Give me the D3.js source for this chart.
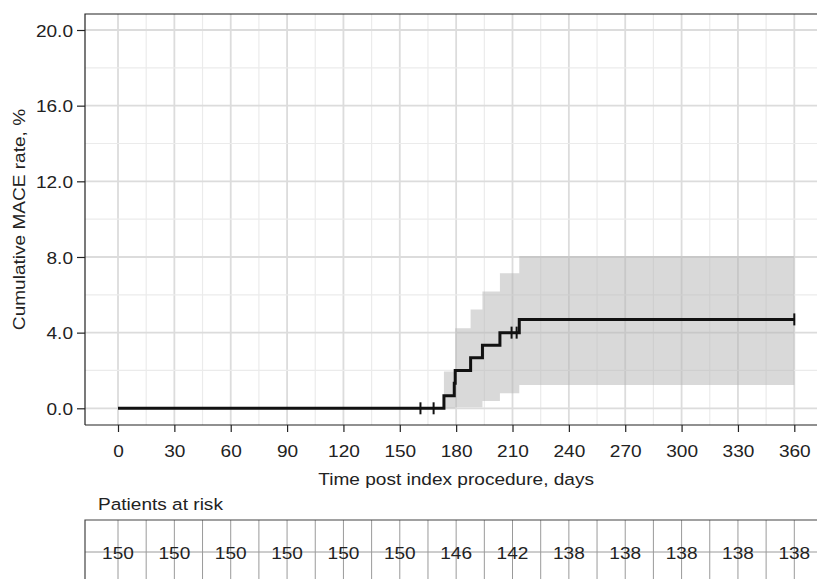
<!DOCTYPE html>
<html>
<head>
<meta charset="utf-8">
<script src="https://cdn.jsdelivr.net/npm/d3@7"></script>
<style>
  body { margin: 0; background: #fff; }
  svg text { font-family: "Liberation Sans", Arial, sans-serif; fill: #222; }
</style>
</head>
<body>
<div id="chart"></div>
<script>
// step curve (days, cumulative MACE %)
const eventDays = [0, 173.5, 179, 179.5, 187.7, 194, 203.3, 213.6, 360];
const cumRate   = [0, 0.67, 1.33, 2.0, 2.67, 3.33, 4.0, 4.70, 4.70];
const ciUpper   = [0, 1.94, 1.94, 4.23, 5.23, 6.17, 7.14, 8.05, 8.05];
const ciLower   = [0, 0, 0, 0.05, 0.05, 0.39, 0.79, 1.23, 1.23];
const censorDays = [161, 168, 209.5, 212.2, 360];

const yTicks = [0, 4, 8, 12, 16, 20];
const xTicks = [0, 30, 60, 90, 120, 150, 180, 210, 240, 270, 300, 330, 360];
const riskDays = xTicks;
const atRisk = [150, 150, 150, 150, 150, 150, 146, 142, 138, 138, 138, 138, 138];

var W = 817, H = 579;
var panel = { left: 85, top: 14, bottom: 425, right: 817 };
var FS = "16.3px", STRETCH = 1.17; // lettering in the figure is wider than Arial

var x = d3.scaleLinear().domain([0, 360]).range([118, 794.3]);
var y = d3.scaleLinear().domain([0, 20]).range([408.3, 30]);

var svg = d3.select("#chart").append("svg")
    .attr("width", W).attr("height", H);

// widen text horizontally around its anchor point
function stretch(sel) {
    sel.each(function () {
        var t = d3.select(this);
        var tx = +t.attr("x") || 0, ty = +t.attr("y") || 0;
        t.attr("x", 0).attr("y", 0)
            .attr("transform", "translate(" + tx + "," + ty + ") scale(" + STRETCH + ",1)");
    });
}

// grid
var grid = svg.append("g");
d3.range(0, 376, 15).forEach(function (d) {
    grid.append("line")
        .attr("x1", x(d)).attr("x2", x(d))
        .attr("y1", panel.top).attr("y2", panel.bottom)
        .attr("stroke", d % 30 === 0 ? "#dcdcdc" : "#ebebeb")
        .attr("stroke-width", d % 30 === 0 ? 1.8 : 1.2);
});
d3.range(0, 21, 2).forEach(function (d) {
    grid.append("line")
        .attr("x1", panel.left).attr("x2", panel.right)
        .attr("y1", y(d)).attr("y2", y(d))
        .attr("stroke", d % 4 === 0 ? "#dcdcdc" : "#ebebeb")
        .attr("stroke-width", d % 4 === 0 ? 1.8 : 1.2);
});

// confidence band
var bandData = eventDays.map(function (d, i) {
    return { t: d, lo: ciLower[i], hi: ciUpper[i] };
}).slice(1);
var area = d3.area()
    .curve(d3.curveStepAfter)
    .x(function (d) { return x(d.t); })
    .y0(function (d) { return y(d.lo); })
    .y1(function (d) { return y(d.hi); });
svg.append("path")
    .datum(bandData)
    .attr("d", area)
    .attr("fill", "#b4b4b4")
    .attr("fill-opacity", 0.5);

// KM step line
var lineData = eventDays.map(function (d, i) { return { t: d, v: cumRate[i] }; });
var line = d3.line()
    .curve(d3.curveStepAfter)
    .x(function (d) { return x(d.t); })
    .y(function (d) { return y(d.v); });
svg.append("path")
    .datum(lineData)
    .attr("d", line)
    .attr("fill", "none")
    .attr("stroke", "#111")
    .attr("stroke-width", 3);

// censor marks
function rateAt(t) {
    var v = 0;
    eventDays.forEach(function (d, i) { if (d <= t) v = cumRate[i]; });
    return v;
}
svg.selectAll(".censor")
    .data(censorDays)
    .enter()
    .append("line")
    .attr("class", "censor")
    .attr("x1", function (d) { return x(d); })
    .attr("x2", function (d) { return x(d); })
    .attr("y1", function (d) { return y(rateAt(d)) - 6; })
    .attr("y2", function (d) { return y(rateAt(d)) + 6; })
    .attr("stroke", "#111")
    .attr("stroke-width", 2);

// panel border (left, top) and x axis line
svg.append("path")
    .attr("d", "M" + panel.left + "," + panel.bottom + "V" + panel.top + "H" + panel.right)
    .attr("fill", "none").attr("stroke", "#222").attr("stroke-width", 1.2);
svg.append("line")
    .attr("x1", panel.left).attr("x2", panel.right)
    .attr("y1", panel.bottom).attr("y2", panel.bottom)
    .attr("stroke", "#222").attr("stroke-width", 1.2);

// Y axis
var yAxis = d3.axisLeft(y).tickValues(yTicks).tickFormat(d3.format(".1f")).tickSize(8).tickPadding(4);
var gy = svg.append("g")
    .attr("transform", "translate(" + panel.left + ",0)")
    .call(yAxis);
gy.select(".domain").remove();
gy.selectAll(".tick line").attr("stroke", "#222").attr("stroke-width", 1.2);
gy.selectAll(".tick text").style("font-size", FS).attr("fill", "#222").attr("y", 1).call(stretch);

// X axis
var xAxis = d3.axisBottom(x).tickValues(xTicks).tickSize(7).tickPadding(13);
var gx = svg.append("g")
    .attr("transform", "translate(0," + panel.bottom + ")")
    .call(xAxis);
gx.select(".domain").remove();
gx.selectAll(".tick line").attr("stroke", "#222").attr("stroke-width", 1.2);
gx.selectAll(".tick text").style("font-size", FS).attr("fill", "#222").call(stretch);

// axis titles
svg.append("text")
    .attr("x", x(180))
    .attr("y", 485)
    .attr("text-anchor", "middle")
    .style("font-size", FS)
    .text("Time post index procedure, days")
    .call(stretch);

svg.append("text")
    .attr("transform", "translate(25," + ((panel.top + panel.bottom) / 2) + ") rotate(-90) scale(" + STRETCH + ",1)")
    .attr("text-anchor", "middle")
    .style("font-size", FS)
    .text("Cumulative MACE rate, %");

// Patients at risk table
svg.append("text")
    .attr("x", 98)
    .attr("y", 510)
    .style("font-size", FS)
    .text("Patients at risk")
    .call(stretch);

var tbl = svg.append("g");
d3.range(0, 361, 15).forEach(function (d) {
    tbl.append("line")
        .attr("x1", x(d)).attr("x2", x(d))
        .attr("y1", 520).attr("y2", H)
        .attr("stroke", "#9a9a9a").attr("stroke-width", 1);
});
tbl.append("line")
    .attr("x1", panel.left).attr("x2", W)
    .attr("y1", 552).attr("y2", 552)
    .attr("stroke", "#9a9a9a").attr("stroke-width", 1);
tbl.append("path")
    .attr("d", "M" + panel.left + "," + H + "V520H" + W)
    .attr("fill", "none").attr("stroke", "#444").attr("stroke-width", 1.2);

tbl.selectAll(".risk")
    .data(atRisk)
    .enter()
    .append("text")
    .attr("class", "risk")
    .attr("x", function (d, i) { return x(riskDays[i]); })
    .attr("y", 559)
    .attr("text-anchor", "middle")
    .style("font-size", FS)
    .text(function (d) { return d; })
    .call(stretch);
</script>
</body>
</html>
